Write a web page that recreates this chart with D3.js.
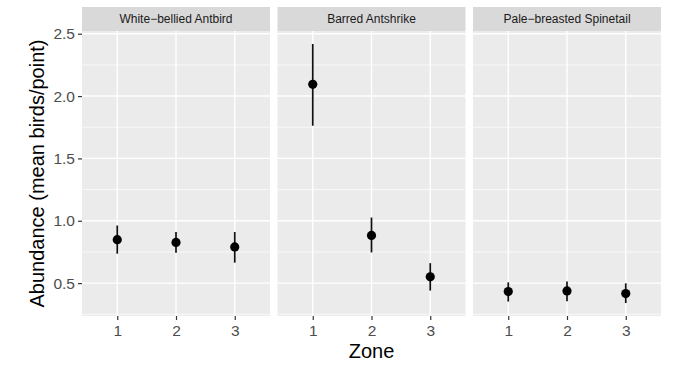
<!DOCTYPE html>
<html>
<head>
<meta charset="utf-8">
<script src="https://cdn.jsdelivr.net/npm/d3@7"></script>
<style>
  body { margin: 0; background: #fff; }
  svg { display: block; font-family: "Liberation Sans", Arial, sans-serif; }
</style>
</head>
<body>
<svg id="chart" width="677" height="365"></svg>
<script>
// species (facets) and zones
const species = ["White−bellied Antbird", "Barred Antshrike", "Pale−breasted Spinetail"];
const zones = ["1", "2", "3"];

// mean abundance per zone, one array per species
const meanAntbird   = [0.848, 0.826, 0.790];
const meanAntshrike = [2.094, 0.882, 0.550];
const meanSpinetail = [0.432, 0.437, 0.416];

// error bar limits
const lowAntbird    = [0.736, 0.744, 0.664];
const highAntbird   = [0.962, 0.910, 0.910];
const lowAntshrike  = [1.762, 0.746, 0.440];
const highAntshrike = [2.418, 1.026, 0.660];
const lowSpinetail  = [0.352, 0.354, 0.340];
const highSpinetail = [0.506, 0.512, 0.498];

const yTicks = [0.5, 1.0, 1.5, 2.0, 2.5];
const yMinor = [0.25, 0.75, 1.25, 1.75, 2.25];

const means = [meanAntbird, meanAntshrike, meanSpinetail];
const lows = [lowAntbird, lowAntshrike, lowSpinetail];
const highs = [highAntbird, highAntshrike, highSpinetail];

const svg = d3.select("#chart");

const panelTop = 31, panelBottom = 316;
const stripTop = 7;
const panelW = 188, gap = 7.5;
const firstLeft = 82;

// ggplot-style 5% expansion on the continuous axis
const allLo = d3.min(lows.flat()), allHi = d3.max(highs.flat());
const pad = (allHi - allLo) * 0.05;
const y = d3.scaleLinear().domain([allLo - pad, allHi + pad]).range([panelBottom, panelTop]);

species.forEach((sp, i) => {
  const left = firstLeft + i * (panelW + gap);
  const x = d3.scalePoint().domain(zones).range([left, left + panelW]).padding(0.6);
  const g = svg.append("g");

  // panel background
  g.append("rect").attr("x", left).attr("y", panelTop)
    .attr("width", panelW).attr("height", panelBottom - panelTop).attr("fill", "#EBEBEB");

  // strip
  g.append("rect").attr("x", left).attr("y", stripTop)
    .attr("width", panelW).attr("height", panelTop - stripTop).attr("fill", "#D9D9D9");
  g.append("text").attr("x", left + panelW / 2).attr("y", (stripTop + panelTop) / 2)
    .attr("dy", "0.35em").attr("text-anchor", "middle")
    .attr("font-size", 12).attr("fill", "#1A1A1A").text(sp);

  // grid
  g.selectAll(".minor").data(yMinor.filter(v => y(v) <= panelBottom && y(v) >= panelTop)).enter()
    .append("line").attr("x1", left).attr("x2", left + panelW)
    .attr("y1", d => y(d)).attr("y2", d => y(d))
    .attr("stroke", "#fff").attr("stroke-width", 0.7);
  g.selectAll(".major").data(yTicks).enter()
    .append("line").attr("x1", left).attr("x2", left + panelW)
    .attr("y1", d => y(d)).attr("y2", d => y(d))
    .attr("stroke", "#fff").attr("stroke-width", 1.4);
  g.selectAll(".vmajor").data(zones).enter()
    .append("line").attr("x1", d => x(d)).attr("x2", d => x(d))
    .attr("y1", panelTop).attr("y2", panelBottom)
    .attr("stroke", "#fff").attr("stroke-width", 1.4);

  // x axis
  const xAxis = g.append("g").attr("transform", `translate(0,${panelBottom})`)
    .call(d3.axisBottom(x).tickSize(4).tickPadding(5));
  xAxis.select(".domain").remove();
  xAxis.selectAll("line").attr("stroke", "#333").attr("stroke-width", 1.2);
  xAxis.selectAll("text").attr("font-size", 15.5).attr("fill", "#4D4D4D")
    .attr("font-family", "Liberation Sans, Arial, sans-serif");

  // error bars and points
  const rows = zones.map((z, j) => ({ z, m: means[i][j], lo: lows[i][j], hi: highs[i][j] }));
  g.selectAll(".err").data(rows).enter().append("line")
    .attr("x1", d => x(d.z)).attr("x2", d => x(d.z))
    .attr("y1", d => y(d.lo)).attr("y2", d => y(d.hi))
    .attr("stroke", "#111").attr("stroke-width", 1.7);
  g.selectAll(".pt").data(rows).enter().append("circle")
    .attr("cx", d => x(d.z)).attr("cy", d => y(d.m)).attr("r", 4.6).attr("fill", "#000");
});

// y axis
const yAxis = svg.append("g").attr("transform", `translate(${firstLeft},0)`)
  .call(d3.axisLeft(y).tickValues(yTicks).tickFormat(d3.format(".1f")).tickSize(4).tickPadding(3));
yAxis.select(".domain").remove();
yAxis.selectAll("line").attr("stroke", "#333").attr("stroke-width", 1.2);
yAxis.selectAll("text").attr("font-size", 15.5).attr("fill", "#4D4D4D")
  .attr("font-family", "Liberation Sans, Arial, sans-serif");

// axis titles
const plotRight = firstLeft + 3 * panelW + 2 * gap;
svg.append("text").attr("x", (firstLeft + plotRight) / 2).attr("y", 358)
  .attr("text-anchor", "middle").attr("font-size", 20).attr("fill", "#000").text("Zone");
svg.append("text")
  .attr("transform", `translate(44,${(panelTop + panelBottom) / 2}) rotate(-90)`)
  .attr("text-anchor", "middle").attr("font-size", 20).attr("fill", "#000")
  .text("Abundance (mean birds/point)");
</script>
</body>
</html>
